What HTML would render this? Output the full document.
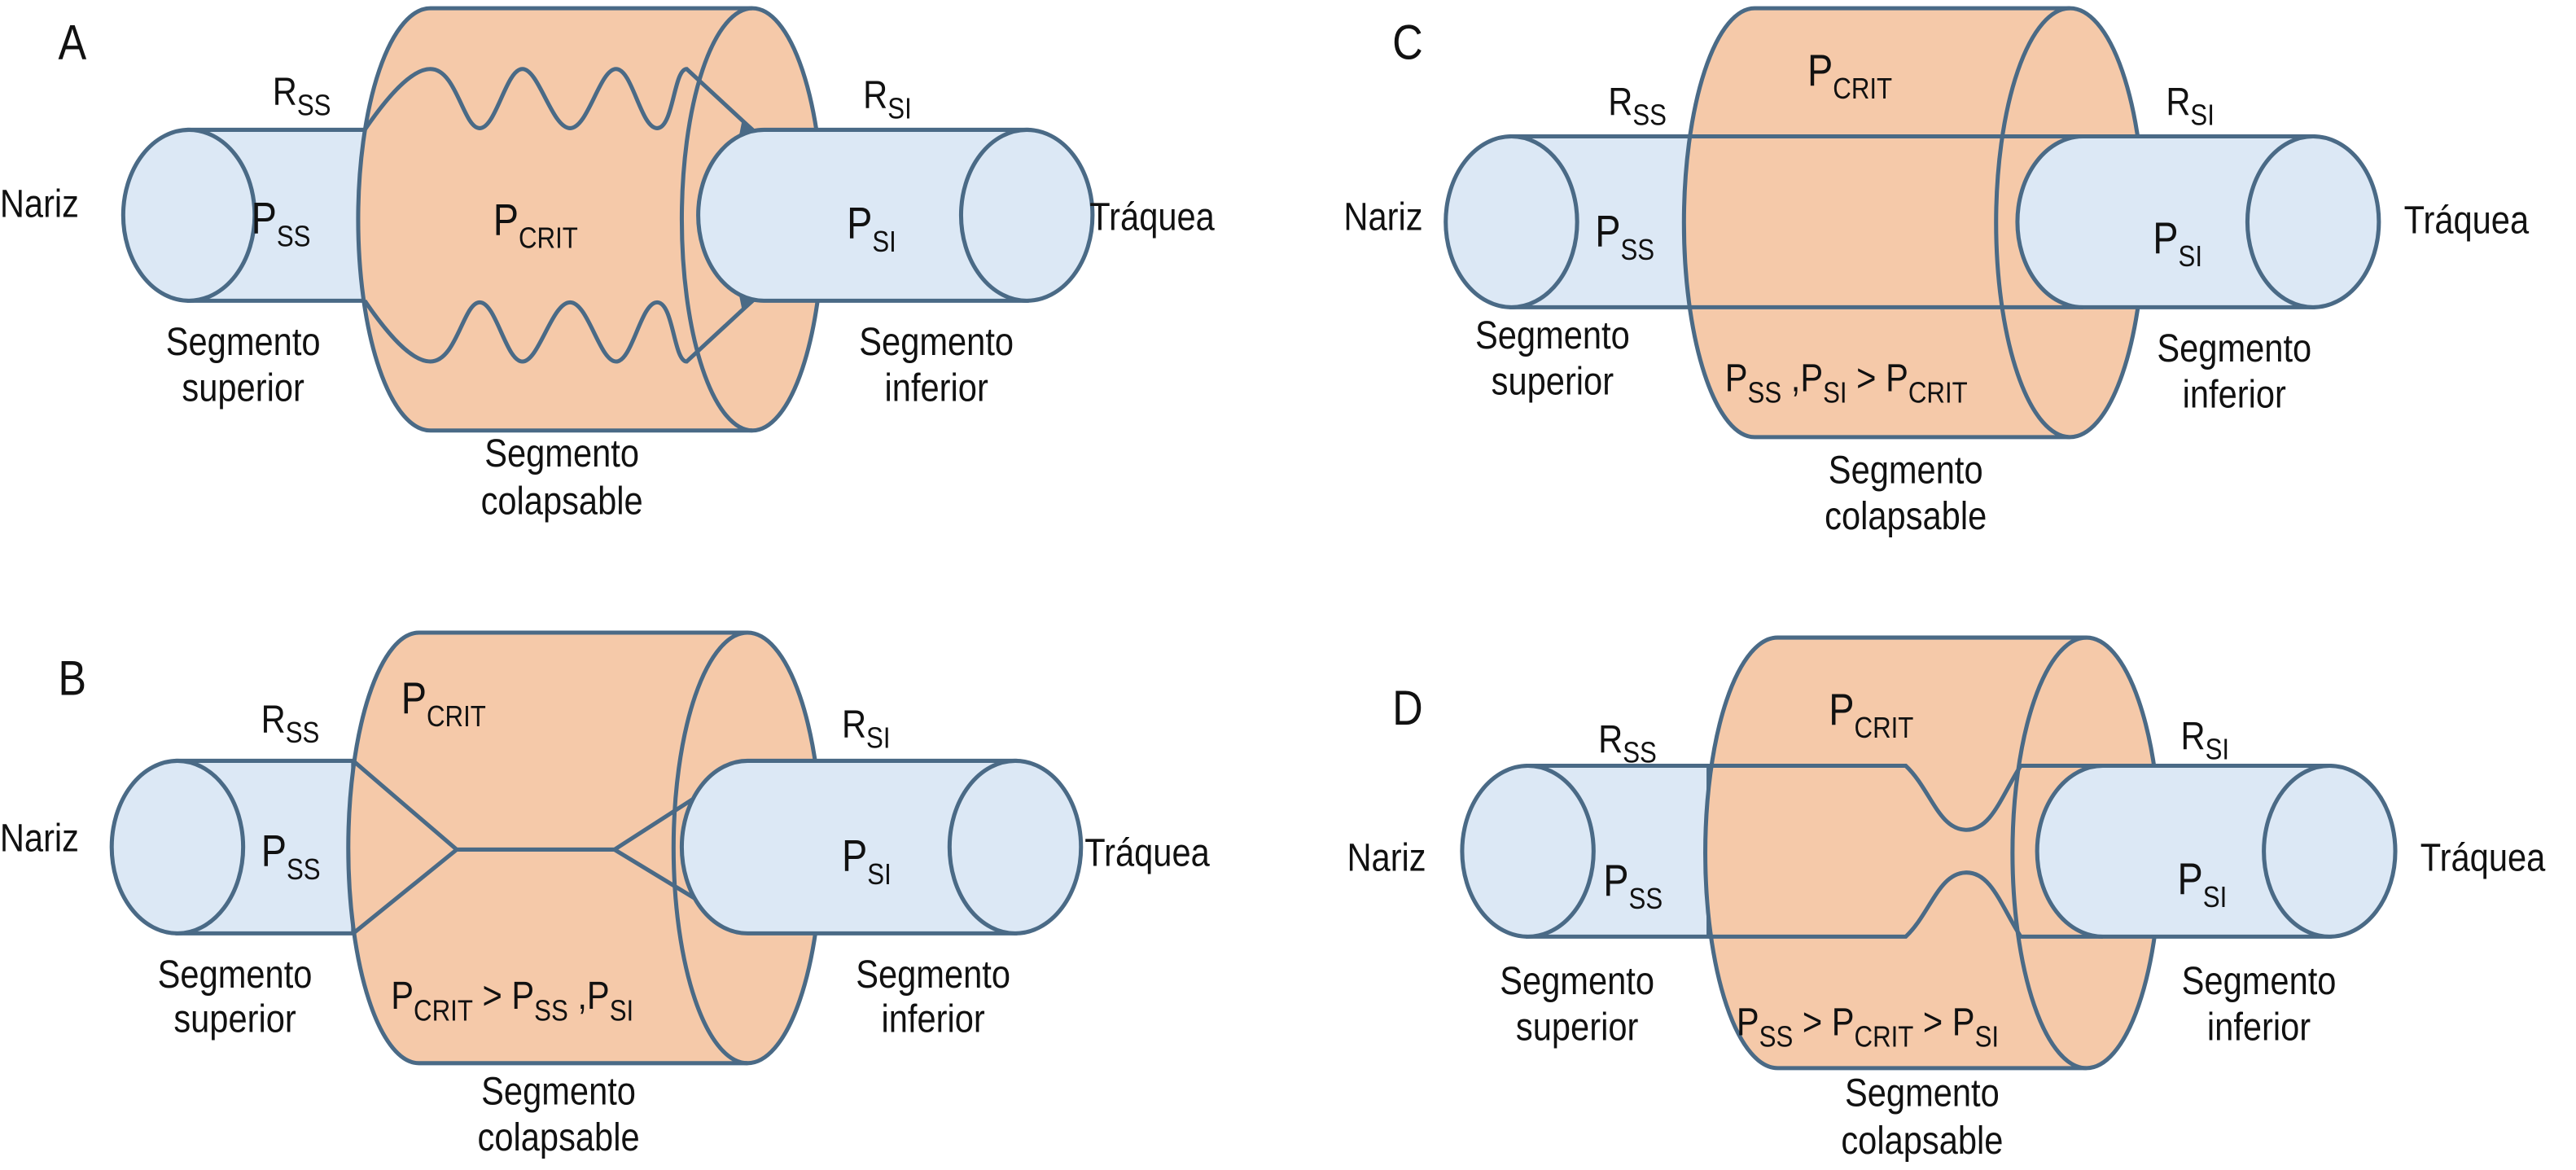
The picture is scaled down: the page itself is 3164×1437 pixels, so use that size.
<!DOCTYPE html>
<html><head><meta charset="utf-8"><style>
html,body{margin:0;padding:0;background:#fff;}
svg{display:block;}
text{font-family:"Liberation Sans Narrow","Liberation Sans",sans-serif;fill:#111;font-size:24px;transform:scaleX(0.86);transform-box:fill-box;transform-origin:center;}
.b{font-size:27px;}
.s{font-size:18px;}
.L{font-size:30px;}
.tb{fill:#dce8f5;stroke:#4a6a86;stroke-width:2.5;}
.or{fill:#f5c9a9;stroke:#4a6a86;stroke-width:2.5;}
.ln{fill:none;stroke:#4a6a86;stroke-width:2.5;}
</style></head><body>
<svg width="3164" height="1437" viewBox="0 0 1568 712" preserveAspectRatio="none" xmlns="http://www.w3.org/2000/svg">

<!-- ===== Panel A ===== -->
<path class="tb" d="M115,79 L225,79 L225,183 L115,183 Z"/>
<ellipse class="tb" cx="115" cy="131" rx="40" ry="52"/>
<path class="or" d="M262,5 L458,5 A43,128.5 0 0 1 458,262 L262,262 A44,128.5 0 0 1 262,5 Z"/>
<path class="ln" d="M458,5 A43,128.5 0 0 0 458,262"/>
<path class="ln" d="M222,79 C235,60 250,42 262,42 C278,42 282,78 292,78 C302,78 308,42 318,42 C328,42 336,78 347,78 C358,78 365,42 375,42 C385,42 390,78 400,78 C410,78 410,42 418,42 L458,79"/>
<path class="ln" d="M222,183 C235,202 250,220 262,220 C278,220 282,184 292,184 C302,184 308,220 318,220 C328,220 336,184 347,184 C358,184 365,220 375,220 C385,220 390,184 400,184 C410,184 410,220 418,220 L458,183"/>
<path class="tb" d="M465,79 L625,79 L625,183 L465,183 A40,52 0 0 1 465,79 Z"/>
<ellipse class="tb" cx="625" cy="131" rx="40" ry="52"/>
<path d="M452,72 L460,79 L450,82 Z M452,190 L460,183 L450,180 Z" fill="#4a6a86"/>

<text class="L" x="34" y="36">A</text>
<text x="163" y="64">R<tspan class="s" dy="6">SS</tspan></text>
<text x="523" y="66">R<tspan class="s" dy="6">SI</tspan></text>
<text x="-4" y="132">Nariz</text>
<text class="b" x="150" y="142">P<tspan class="s" dy="8">SS</tspan></text>
<text class="b" x="296" y="143">P<tspan class="s" dy="8">CRIT</tspan></text>
<text class="b" x="513" y="145">P<tspan class="s" dy="8">SI</tspan></text>
<text x="657" y="140">Tráquea</text>
<text x="148" y="216" text-anchor="middle">Segmento</text>
<text x="148" y="244" text-anchor="middle">superior</text>
<text x="570" y="216" text-anchor="middle">Segmento</text>
<text x="570" y="244" text-anchor="middle">inferior</text>
<text x="342" y="284" text-anchor="middle">Segmento</text>
<text x="342" y="313" text-anchor="middle">colapsable</text>

<!-- ===== Panel B ===== -->
<path class="tb" d="M108,463 L215,463 L215,568 L108,568 Z"/>
<ellipse class="tb" cx="108" cy="515.5" rx="40" ry="52.5"/>
<path class="or" d="M255,385 L455,385 A45,131 0 0 1 455,647 L255,647 A43,131 0 0 1 255,385 Z"/>
<path class="ln" d="M455,385 A45,131 0 0 0 455,647"/>
<path class="ln" d="M215,463 L278,517 L374,517 L458,463 M215,568 L278,517 M374,517 L458,568"/>
<path class="tb" d="M455,463 L618,463 L618,568 L455,568 A40,52.5 0 0 1 455,463 Z"/>
<ellipse class="tb" cx="618" cy="515.5" rx="40" ry="52.5"/>

<text class="L" x="34" y="423">B</text>
<text x="156" y="446">R<tspan class="s" dy="6">SS</tspan></text>
<text x="510" y="449">R<tspan class="s" dy="6">SI</tspan></text>
<text class="b" x="240" y="434">P<tspan class="s" dy="8">CRIT</tspan></text>
<text x="-4" y="518">Nariz</text>
<text class="b" x="156" y="527">P<tspan class="s" dy="8">SS</tspan></text>
<text class="b" x="510" y="530">P<tspan class="s" dy="8">SI</tspan></text>
<text x="654" y="527">Tráquea</text>
<text x="143" y="601" text-anchor="middle">Segmento</text>
<text x="143" y="628" text-anchor="middle">superior</text>
<text x="568" y="601" text-anchor="middle">Segmento</text>
<text x="568" y="628" text-anchor="middle">inferior</text>
<text x="226" y="614">P<tspan class="s" dy="7">CRIT</tspan><tspan dy="-7"> &gt; P</tspan><tspan class="s" dy="7">SS</tspan><tspan dy="-7"> ,P</tspan><tspan class="s" dy="7">SI</tspan></text>
<text x="340" y="672" text-anchor="middle">Segmento</text>
<text x="340" y="700" text-anchor="middle">colapsable</text>

<!-- ===== Panel C ===== -->
<path class="tb" d="M920,83 L1030,83 L1030,187 L920,187 Z"/>
<ellipse class="tb" cx="920" cy="135" rx="40" ry="52"/>
<path class="or" d="M1068,5 L1260,5 A45,130.5 0 0 1 1260,266 L1068,266 A43,130.5 0 0 1 1068,5 Z"/>
<path class="ln" d="M1260,5 A45,130.5 0 0 0 1260,266"/>
<path class="ln" d="M1028,83 L1268,83 M1028,187 L1268,187"/>
<path class="tb" d="M1268,83 L1408,83 L1408,187 L1268,187 A40,52 0 0 1 1268,83 Z"/>
<ellipse class="tb" cx="1408" cy="135" rx="40" ry="52"/>

<text class="L" x="846" y="36">C</text>
<text class="b" x="1096" y="52">P<tspan class="s" dy="8">CRIT</tspan></text>
<text x="976" y="70">R<tspan class="s" dy="6">SS</tspan></text>
<text x="1316" y="70">R<tspan class="s" dy="6">SI</tspan></text>
<text x="814" y="140">Nariz</text>
<text class="b" x="968" y="150">P<tspan class="s" dy="8">SS</tspan></text>
<text class="b" x="1308" y="154">P<tspan class="s" dy="8">SI</tspan></text>
<text x="1457" y="142">Tráquea</text>
<text x="945" y="212" text-anchor="middle">Segmento</text>
<text x="945" y="240" text-anchor="middle">superior</text>
<text x="1360" y="220" text-anchor="middle">Segmento</text>
<text x="1360" y="248" text-anchor="middle">inferior</text>
<text x="1038" y="238">P<tspan class="s" dy="7">SS</tspan><tspan dy="-7"> ,P</tspan><tspan class="s" dy="7">SI</tspan><tspan dy="-7"> &gt; P</tspan><tspan class="s" dy="7">CRIT</tspan></text>
<text x="1160" y="294" text-anchor="middle">Segmento</text>
<text x="1160" y="322" text-anchor="middle">colapsable</text>

<!-- ===== Panel D ===== -->
<path class="tb" d="M930,466 L1040,466 L1040,570 L930,570 Z"/>
<ellipse class="tb" cx="930" cy="518" rx="40" ry="52"/>
<path class="or" d="M1082,388 L1270,388 A45,131 0 0 1 1270,650 L1082,650 A44,131 0 0 1 1082,388 Z"/>
<path class="ln" d="M1270,388 A45,131 0 0 0 1270,650"/>
<path class="ln" d="M1040,466 L1160,466 C1175,480 1180,505 1197,505 C1212,505 1218,485 1230,466 L1280,466"/>
<path class="ln" d="M1040,570 L1160,570 C1175,556 1180,531 1197,531 C1212,531 1218,551 1230,570 L1280,570"/>
<path class="tb" d="M1280,466 L1418,466 L1418,570 L1280,570 A40,52 0 0 1 1280,466 Z"/>
<ellipse class="tb" cx="1418" cy="518" rx="40" ry="52"/>

<text class="L" x="846" y="441">D</text>
<text class="b" x="1109" y="441">P<tspan class="s" dy="8">CRIT</tspan></text>
<text x="970" y="458">R<tspan class="s" dy="6">SS</tspan></text>
<text x="1325" y="456">R<tspan class="s" dy="6">SI</tspan></text>
<text x="816" y="530">Nariz</text>
<text class="b" x="973" y="545">P<tspan class="s" dy="8">SS</tspan></text>
<text class="b" x="1323" y="544">P<tspan class="s" dy="8">SI</tspan></text>
<text x="1467" y="530">Tráquea</text>
<text x="960" y="605" text-anchor="middle">Segmento</text>
<text x="960" y="633" text-anchor="middle">superior</text>
<text x="1375" y="605" text-anchor="middle">Segmento</text>
<text x="1375" y="633" text-anchor="middle">inferior</text>
<text x="1044" y="630">P<tspan class="s" dy="7">SS</tspan><tspan dy="-7"> &gt; P</tspan><tspan class="s" dy="7">CRIT</tspan><tspan dy="-7"> &gt; P</tspan><tspan class="s" dy="7">SI</tspan></text>
<text x="1170" y="673" text-anchor="middle">Segmento</text>
<text x="1170" y="702" text-anchor="middle">colapsable</text>
</svg>
</body></html>
